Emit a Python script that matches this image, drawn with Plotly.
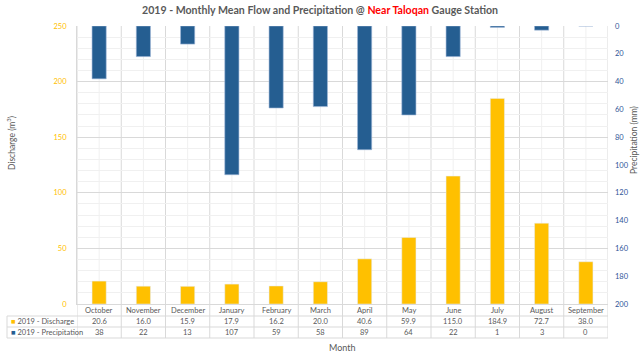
import plotly.graph_objects as go

months = ["October", "November", "December", "January", "February", "March",
          "April", "May", "June", "July", "August", "September"]
discharge = [20.6, 16.0, 15.9, 17.9, 16.2, 20.0, 40.6, 59.9, 115.0, 184.9, 72.7, 38.0]
precip = [38, 22, 13, 107, 59, 58, 89, 64, 22, 1, 3, 0]
disc_labels = ["20.6", "16.0", "15.9", "17.9", "16.2", "20.0", "40.6", "59.9", "115.0", "184.9", "72.7", "38.0"]

W, H = 643, 355
L, R, T, B = 77, 608, 26, 304
PW, PH = R - L, B - T

def px(x):
    return (x - L) / PW

def py(y):
    return (B - y) / PH

GOLD = "#FFC000"
BLUE = "#255E91"
GRID = "#D9D9D9"
MINOR = "#F0F0F0"
TXT = "#595959"
FONT = "Lato"

fig = go.Figure()
fig.add_trace(go.Bar(x=months, y=discharge, name="2019 - Discharge", marker_color=GOLD,
                     width=0.32, yaxis="y"))
fig.add_trace(go.Bar(x=months, y=precip, name="2019 - Precipitation", marker_color=BLUE,
                     marker_line=dict(color="#9DB5D6", width=0.6),
                     width=0.32, yaxis="y2"))

shapes = []
annotations = []
n = len(months)
# vertical lines at category centers (minor grid)
for i in range(n):
    shapes.append(dict(type="line", xref="x", yref="paper", x0=i, x1=i, y0=0, y1=1,
                       line=dict(color=MINOR, width=1), layer="below"))
# table
rows_y = [304, 316, 327, 338]
for i in range(n + 1):
    shapes.append(dict(type="line", xref="x", yref="paper", x0=i - 0.5, x1=i - 0.5,
                       y0=py(rows_y[0]), y1=py(rows_y[-1]), line=dict(color=GRID, width=1)))
    shapes.append(dict(type="line", xref="x", yref="paper", x0=i - 0.5, x1=i - 0.5,
                       y0=0, y1=1, line=dict(color=GRID, width=1), layer="below"))
shapes.append(dict(type="line", xref="paper", yref="paper", x0=px(7), x1=px(7),
                   y0=py(316), y1=py(338), line=dict(color=GRID, width=1)))
for yy in rows_y[1:]:
    shapes.append(dict(type="line", xref="paper", yref="paper", x0=px(7), x1=1,
                       y0=py(yy), y1=py(yy), line=dict(color=GRID, width=1)))

fs = 7.5

def ann(**kw):
    d = dict(showarrow=False, xanchor="center", yanchor="middle")
    d.update(kw)
    annotations.append(d)

for i, m in enumerate(months):
    ann(x=m, xref="x", y=py(310), yref="paper", text=m,
        font=dict(size=fs, color=TXT, family=FONT))
    ann(x=m, xref="x", y=py(321.5), yref="paper", text=disc_labels[i],
        font=dict(size=fs, color=TXT, family=FONT))
    ann(x=m, xref="x", y=py(332.5), yref="paper", text=str(precip[i]),
        font=dict(size=fs, color=TXT, family=FONT))

ann(x=px(9), xref="paper", y=py(321.5), yref="paper", xanchor="left",
    text=f"<span style='color:{GOLD}'>■</span> 2019 - Discharge",
    font=dict(size=fs, color=TXT, family=FONT))
ann(x=px(9), xref="paper", y=py(332.5), yref="paper", xanchor="left",
    text=f"<span style='color:{BLUE}'>■</span> 2019 - Precipitation",
    font=dict(size=fs, color=TXT, family=FONT))

ann(x=px(342), xref="paper", y=py(347), yref="paper", text="Month",
    font=dict(size=9, color=TXT, family=FONT))
ann(x=px(11), xref="paper", y=py(143), yref="paper", text="Discharge (m<sup>3</sup>)",
    textangle=-90, font=dict(size=8.5, color=TXT, family=FONT))
ann(x=px(634), xref="paper", y=py(140), yref="paper", text="Precipitation (mm)",
    textangle=-90, font=dict(size=8.5, color=TXT, family=FONT))
ann(x=px(320), xref="paper", y=py(10), yref="paper",
    text="<b>2019 - Monthly Mean Flow and Precipitation @ <span style='color:#FF0000'>Near Taloqan</span> Gauge Station</b>",
    font=dict(size=10.6, color=TXT, family=FONT))

fig.update_layout(
    width=W, height=H,
    margin=dict(l=L, r=W - R, t=T, b=H - B, pad=0, autoexpand=False),
    paper_bgcolor="white", plot_bgcolor="white",
    barmode="overlay", showlegend=False,
    font=dict(family=FONT, color=TXT),
    xaxis=dict(type="category", categoryorder="array", categoryarray=months,
               range=[-0.5, n - 0.5], showticklabels=False, showgrid=False, automargin=False,
               showline=True, linecolor=GRID, linewidth=1, zeroline=False, fixedrange=True),
    yaxis=dict(range=[0, 250], dtick=50, showgrid=True, gridcolor=GRID, gridwidth=1,
               minor=dict(dtick=10, showgrid=True, gridcolor=MINOR, gridwidth=1),
               tickfont=dict(size=7.5, color=GOLD, family=FONT), ticklabelstandoff=8,
               automargin=False, showline=True, linecolor=GRID, zeroline=False),
    yaxis2=dict(range=[200, 0], dtick=20, overlaying="y", side="right", anchor="x",
                showgrid=False, tickfont=dict(size=7.5, color="#2F5597", family=FONT),
                automargin=False, ticklabelstandoff=6, showline=False, zeroline=False),
    shapes=shapes, annotations=annotations,
)
fig.write_html("out.html", config={"displayModeBar": False},
               post_script="document.body.style.margin='0';document.body.style.overflow='hidden';")
